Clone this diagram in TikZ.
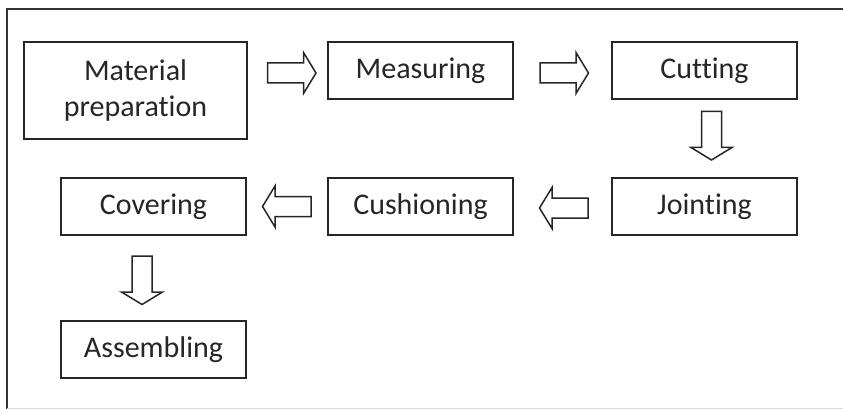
\documentclass[tikz,border=0pt]{standalone}
\usepackage{fontspec}
\setmainfont{Carlito}[Ligatures={NoCommon}]
\usetikzlibrary{calc}
\tikzset{
  stage/.style={draw=black!85, line width=1.6pt, minimum width=185pt, minimum height=57pt,
    inner sep=0pt, align=center, text=black!85, font=\fontsize{30}{36}\selectfont},
  hollow/.pic={\draw[line width=1.5pt, black!85, line join=miter]
    (-24,-10) -- (12,-10) -- (12,-20.5) -- (24.5,0) -- (12,20.5) -- (12,10) -- (-24,10) -- cycle;}
}
\begin{document}
\begin{tikzpicture}[x=1pt, y=-1pt]
  \useasboundingbox (0,0) rectangle (843,409);
  % frame
  \draw[line width=2pt, black!80] (7,409) -- (7,9) -- (843,9);
  \draw[line width=1pt, black!15] (7,408) -- (843,408);
  % stages
  \node[stage, minimum width=223pt, minimum height=97pt] (mat) at (135.5,90.5) {Material\\preparation};
  \node[stage] (meas) at (420.5,70.5) {Measuring};
  \node[stage] (cut) at (704.5,70.5) {Cutting};
  \node[stage] (joint) at (704.5,206.5) {Jointing};
  \node[stage] (cush) at (420.5,206.5) {Cushioning};
  \node[stage] (cov) at (153.5,206.5) {Covering};
  \node[stage] (asm) at (153.5,349.5) {Assembling};
  % arrows between stages
  \path ($(mat.east |- meas.west)!.5!(meas.west)+(4,2.5)$) pic {hollow};
  \path ($(meas.east)!.5!(cut.west)+(1.5,2.5)$) pic {hollow};
  \path ($(cut.south)!.5!(joint.north)+(7,-3)$) pic[rotate=-90] {hollow};
  \path ($(joint.west)!.5!(cush.east)+(1.5,1.5)$) pic[rotate=180] {hollow};
  \path ($(cush.west)!.5!(cov.east)$) pic[rotate=180] {hollow};
  \path ($(cov.south)!.5!(asm.north)+(-11.5,2)$) pic[rotate=-90] {hollow};
\end{tikzpicture}
\end{document}
